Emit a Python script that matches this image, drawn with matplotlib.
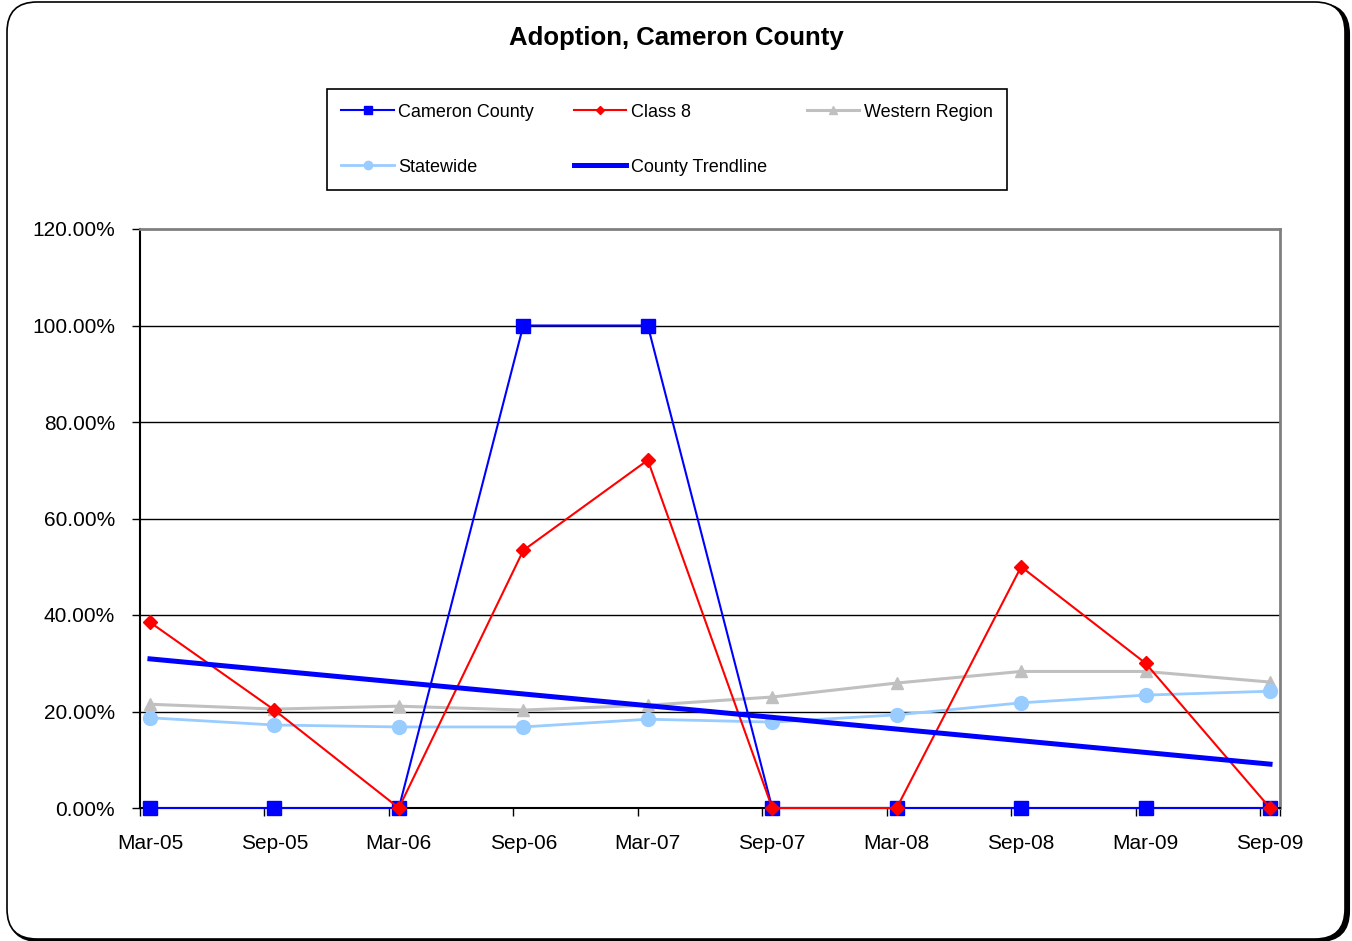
"""Adoption rate chart for Cameron County, compared with peer groups."""
import matplotlib
matplotlib.use("Agg")
import matplotlib.pyplot as plt
import numpy as np
from matplotlib.patches import FancyBboxPatch
from matplotlib.ticker import FuncFormatter

plt.rcParams["font.family"] = ["Liberation Sans", "DejaVu Sans"]

periods = ["Mar-05", "Sep-05", "Mar-06", "Sep-06", "Mar-07",
           "Sep-07", "Mar-08", "Sep-08", "Mar-09", "Sep-09"]
cameron_county = [0, 0, 0, 100, 100, 0, 0, 0, 0, 0]
class_8 = [38.5, 20.3, 0, 53.4, 72.1, 0, 0, 50.0, 30.0, 0]
western_region = [21.5, 20.5, 21.1, 20.3, 21.3, 23.0, 25.9, 28.3, 28.3, 26.1]
statewide = [18.7, 17.2, 16.8, 16.8, 18.4, 17.8, 19.3, 21.8, 23.4, 24.2]

W, H = 1352, 941
fig = plt.figure(figsize=(W / 100, H / 100), dpi=100)
fig.patch.set_facecolor("white")

# rounded outer frame with a small shadow on the right/bottom
shadow = FancyBboxPatch((0.09, 0.0), 13.40, 9.37, boxstyle="round,pad=0,rounding_size=0.3",
                        transform=fig.dpi_scale_trans, facecolor="black", edgecolor="black",
                        linewidth=1.5, zorder=-3)
frame = FancyBboxPatch((0.07, 0.02), 13.38, 9.37, boxstyle="round,pad=0,rounding_size=0.3",
                       transform=fig.dpi_scale_trans, facecolor="white", edgecolor="black",
                       linewidth=1.2, zorder=-2)
fig.patches.extend([shadow, frame])

ax = fig.add_axes([140 / W, 1 - 808 / H, 1140 / W, 579 / H])
ax.set_facecolor("none")
x = np.arange(len(periods))

ax.plot(x, western_region, color="#c0c0c0", lw=2.2, marker="^", ms=9,
        label="Western Region", zorder=3, clip_on=False)
ax.plot(x, statewide, color="#99ccff", lw=2.0, marker="o", ms=10,
        label="Statewide", zorder=3, clip_on=False)
ax.plot(x, class_8, color="#ff0000", lw=1.5, marker="D", ms=7,
        label="Class 8", zorder=5, clip_on=False)
ax.plot(x, cameron_county, color="#0000ff", lw=1.5, marker="s", ms=10,
        label="Cameron County", zorder=4, clip_on=False)

slope, intercept = np.polyfit(x, cameron_county, 1)
ax.plot(x, slope * x + intercept, color="#0000ff", lw=3.6, label="County Trendline", zorder=6)

ax.set_xlim(-0.08, 9.08)
ax.set_ylim(0, 120)
ax.set_yticks(np.arange(0, 121, 20))
ax.yaxis.set_major_formatter(FuncFormatter(lambda v, _: f"{v:.2f}%"))
ax.set_xticks(x)
ax.set_xticklabels(periods)
ax.set_xticks(np.append(x - 0.08, 9.08), minor=True)
ax.tick_params(axis="x", which="major", length=0, pad=19, labelsize=15)
ax.tick_params(axis="x", which="minor", length=6, width=1, direction="out")
ax.tick_params(axis="y", length=6, width=1, direction="out", pad=12, labelsize=15)
for y in range(20, 120, 20):
    ax.axhline(y, color="black", lw=1, zorder=1)

ax.spines["left"].set_color("black")
ax.spines["bottom"].set_color("black")
ax.spines["left"].set_linewidth(1.5)
ax.spines["bottom"].set_linewidth(1.5)
ax.spines["top"].set_color("#808080")
ax.spines["right"].set_color("#808080")
ax.spines["top"].set_linewidth(2)
ax.spines["right"].set_linewidth(2)

fig.text(676 / W, 1 - 38 / H, "Adoption, Cameron County", ha="center", va="center",
         fontsize=18.5, fontweight="bold")

handles, labels = ax.get_legend_handles_labels()
order = ["Cameron County", "Statewide", "Class 8", "County Trendline", "Western Region"]
lookup = dict(zip(labels, handles))
leg = fig.legend([lookup[k] for k in order], order, ncol=3, loc="lower left",
                 bbox_to_anchor=(327 / W, 1 - 190 / H, 680 / W, 107 / H), mode="expand",
                 borderaxespad=0, fontsize=13, frameon=True, fancybox=False, framealpha=1,
                 handlelength=2.9, handletextpad=0.25, labelspacing=2.1,
                 markerscale=0.6, borderpad=0.8)
leg.get_frame().set_edgecolor("black")
leg.get_frame().set_linewidth(1.2)

fig.savefig("out.png", dpi=100)
